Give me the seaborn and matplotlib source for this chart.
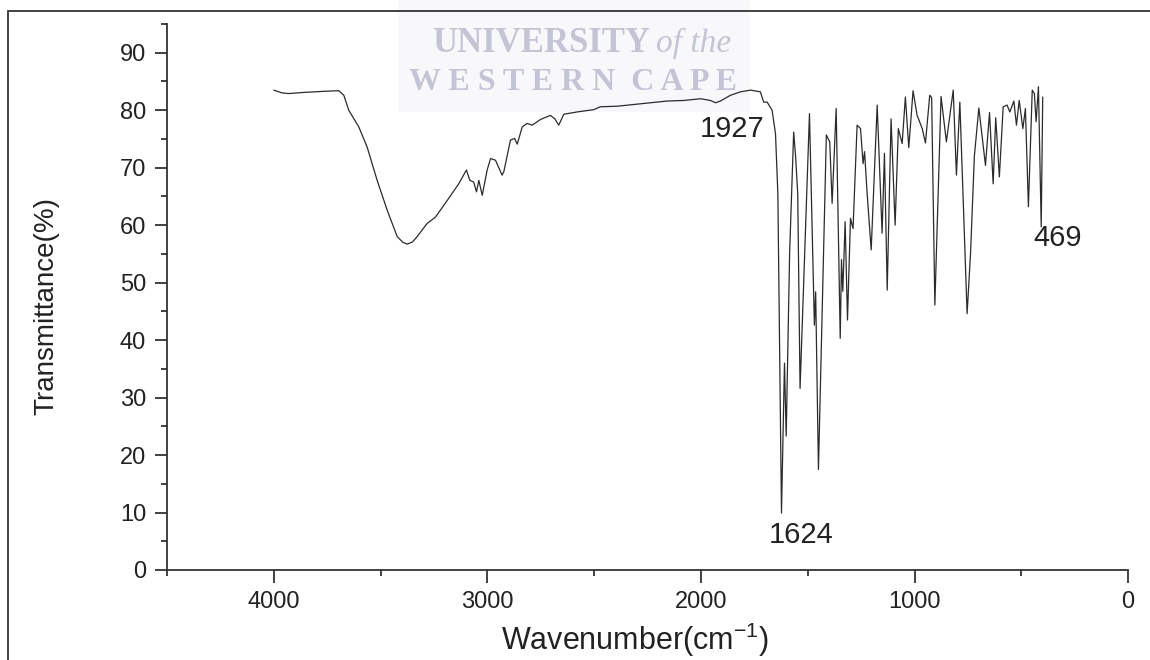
import matplotlib
matplotlib.use("Agg")
import matplotlib.pyplot as plt
from matplotlib.patches import Rectangle
from matplotlib.ticker import MultipleLocator
import seaborn as sns
import pandas as pd

# FTIR spectrum, values
wavenumber = [4000, 3960, 3930, 3859, 3760, 3696, 3672, 3649, 3602, 3563,
              3516, 3469, 3422, 3395, 3375, 3350, 3329, 3282, 3243, 3188,
              3134, 3098, 3082, 3064, 3051, 3040, 3024, 3001, 2985, 2962,
              2931, 2923, 2892, 2873, 2860, 2837, 2814, 2790, 2751, 2705,
              2684, 2666, 2642, 2580, 2502, 2471, 2392, 2315, 2236, 2158,
              2080, 2002, 1956, 1932, 1909, 1862, 1815, 1768, 1722, 1706,
              1690, 1667, 1651, 1640, 1632, 1623, 1609, 1601, 1585, 1566,
              1557, 1547, 1536, 1492, 1469, 1463, 1450, 1413, 1397, 1386,
              1367, 1348, 1342, 1336, 1325, 1314, 1300, 1288, 1269, 1253,
              1241, 1234, 1222, 1203, 1175, 1152, 1141, 1128, 1110, 1091,
              1076, 1058, 1043, 1027, 1007, 988, 964, 949, 929, 920,
              905, 876, 851, 819, 804, 788, 754, 738, 720, 699,
              668, 649, 632, 620, 603, 585, 567, 554, 535, 523,
              510, 493, 481, 467, 449, 439, 431, 420, 407, 400]
transmittance = [83.5, 83.0, 82.9, 83.1, 83.3, 83.4, 82.6, 80.0, 77.1, 73.6,
                 67.8, 62.6, 58.0, 57.0, 56.7, 57.1, 58.0, 60.3, 61.4, 64.3,
                 67.2, 69.6, 67.8, 67.5, 65.8, 67.8, 65.2, 69.6, 71.6, 71.3,
                 68.7, 69.3, 74.8, 75.1, 74.1, 77.1, 77.7, 77.4, 78.4, 79.1,
                 78.5, 77.4, 79.3, 79.7, 80.1, 80.6, 80.7, 81.0, 81.3, 81.6,
                 81.7, 82.0, 81.7, 81.3, 81.6, 82.6, 83.2, 83.5, 83.2, 81.4,
                 81.4, 80.0, 75.9, 65.5, 40.0, 9.9, 36.0, 23.3, 55.0, 76.2,
                 72.0, 65.5, 31.6, 79.4, 42.6, 48.4, 17.5, 75.7, 74.5, 63.8,
                 80.3, 40.3, 54.0, 48.5, 60.6, 43.5, 61.2, 59.4, 77.4, 76.8,
                 70.7, 72.8, 65.5, 55.7, 80.9, 58.6, 72.5, 48.7, 78.5, 60.0,
                 76.8, 74.2, 82.3, 73.5, 83.4, 79.1, 76.8, 74.3, 82.6, 82.2,
                 46.1, 82.4, 74.5, 83.5, 68.7, 81.4, 44.6, 55.0, 72.0, 80.4,
                 70.4, 79.6, 67.2, 78.7, 68.4, 80.6, 80.9, 79.7, 81.6, 77.4,
                 81.7, 76.8, 80.3, 63.2, 83.5, 82.9, 78.0, 84.1, 59.7, 82.3]

peak_labels = ["1927", "1624", "469"]
peak_label_x = [1852, 1529, 444]
peak_label_y = [76.7, 6.1, 57.7]

df = pd.DataFrame({"wavenumber": wavenumber, "T": transmittance})

sns.set_style("ticks")
plt.rcParams["font.family"] = ["Liberation Sans", "DejaVu Sans"]

fig = plt.figure(figsize=(11.5, 6.6), dpi=100)
ax = fig.add_axes([0.1452, 0.1364, 0.8358, 0.8272])
ax.set_facecolor("none")

sns.lineplot(data=df, x="wavenumber", y="T", ax=ax, color="#2b2b2b",
             linewidth=0.9, estimator=None, sort=False)

ax.set_xlim(4500, 0)
ax.set_ylim(0, 95)
ax.xaxis.set_major_locator(MultipleLocator(1000))
ax.xaxis.set_minor_locator(MultipleLocator(500))
ax.yaxis.set_major_locator(MultipleLocator(10))
ax.yaxis.set_minor_locator(MultipleLocator(5))
ax.set_yticks(range(0, 91, 10))

for s in ["top", "right"]:
    ax.spines[s].set_visible(False)
for s in ["left", "bottom"]:
    ax.spines[s].set_color("#333333")
    ax.spines[s].set_linewidth(1.3)

ax.tick_params(which="major", length=9, width=1.3, color="#333333",
               labelsize=17, labelcolor="#222222", pad=6)
ax.tick_params(which="minor", length=4.5, width=1.3, color="#333333")

ax.set_xlabel("Wavenumber(cm$^{\\mathregular{-1}}$)", fontsize=22, color="#222222")
ax.set_ylabel("Transmittance(%)", fontsize=20, color="#222222")
ax.xaxis.set_label_coords(0.487, -0.093)
ax.yaxis.set_label_coords(-0.112, 0.483)

aligns = ["center", "center", "left"]
for lab, x, y, ha in zip(peak_labels, peak_label_x, peak_label_y, aligns):
    ax.text(x, y, lab, fontsize=21, ha=ha, va="center", color="#222222")

# watermark at top, behind the spectrum
fig.patches.append(Rectangle((398 / 1150, 1 - 112 / 660), 352 / 1150, 112 / 660,
                             transform=fig.transFigure, facecolor="#f8f8fb",
                             edgecolor="none", zorder=-2))
fig.text(650 / 1150, 1 - 43 / 660, "UNIVERSITY", fontsize=25, ha="right",
         va="center", color="#c3c5d6", family="Liberation Serif", weight="bold",
         zorder=-1)
fig.text(656 / 1150, 1 - 43 / 660, "of the", fontsize=24, ha="left",
         va="center", color="#c3c5d6", family="Liberation Serif", style="italic",
         zorder=-1)
fig.text(573 / 1150, 1 - 83 / 660, "W E S T E R N  C A P E", fontsize=23,
         ha="center", va="center", color="#c3c5d6", family="Liberation Serif",
         weight="bold", zorder=-1)

# outer frame (only left and top visible in the cropped original)
fig.patches.append(Rectangle((8 / 1150, -0.5), 2.0, 0.5 + 1 - 11 / 660,
                             transform=fig.transFigure, facecolor="none",
                             edgecolor="#333333", linewidth=1.3, zorder=5))

fig.savefig("out.png", dpi=100, facecolor="white")
